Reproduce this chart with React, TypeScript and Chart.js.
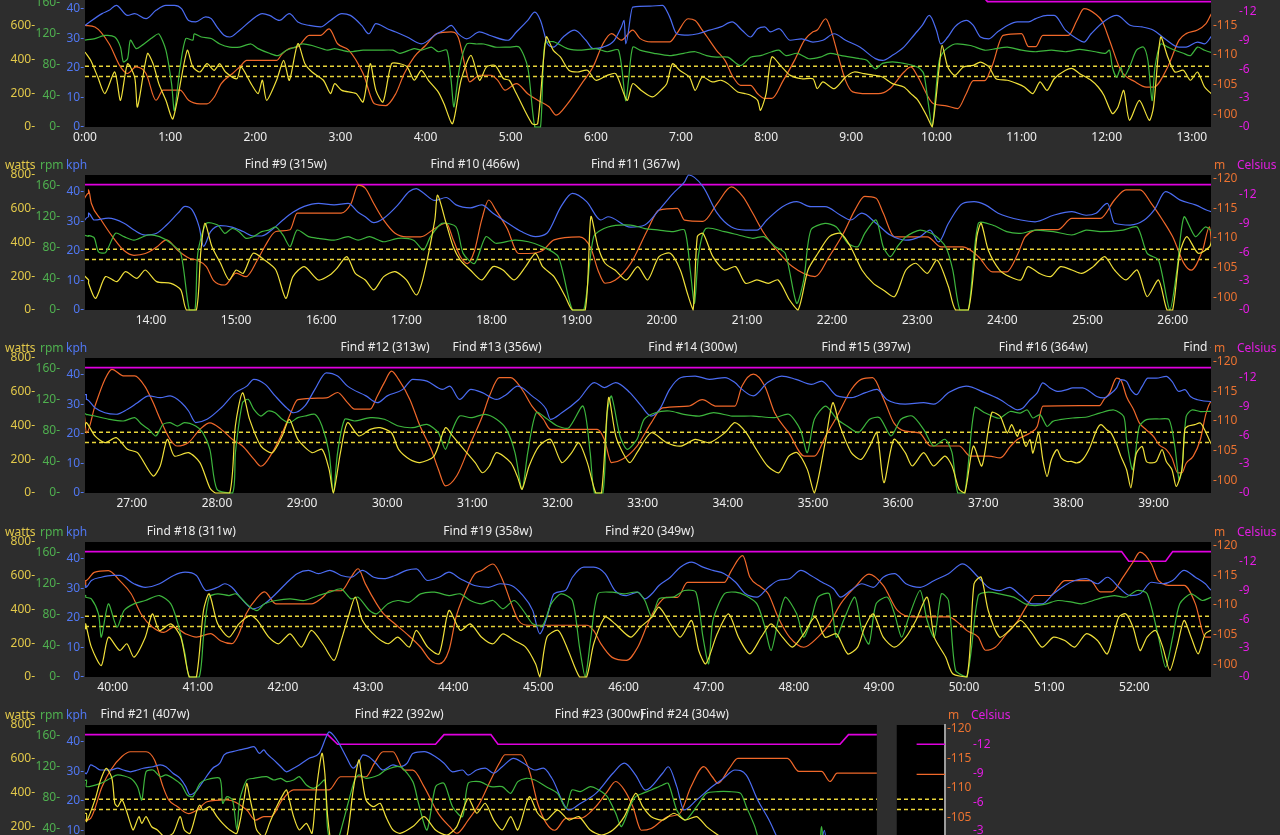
import React, { useEffect, useRef } from "react";
import { Chart, registerables } from "chart.js";

Chart.register(...registerables);

type Pt = [number, number | null];

// ---------- time windows (seconds) ----------
const PANEL_STARTS = [0, 793.5, 1587, 2380.5, 3174];
const PANEL_ENDS = [793.5, 1587, 2380.5, 3174, 3780];
const GAP: [number, number] = [3732, 3746];

// ---------- axis ticks ----------
const WATTS_TICKS = [0, 200, 400, 600, 800];
const RPM_TICKS = [0, 40, 80, 120, 160];
const KPH_TICKS = [0, 10, 20, 30, 40];
const ALT_TICKS = [100, 105, 110, 115, 120];
const TEMP_TICKS = [0, 3, 6, 9, 12];
const THRESHOLDS = [300, 360];

// ---------- interval labels [seconds, text] ----------
const FINDS: [number, string][] = [
  [906, "Find #9 (315w)"], [1037, "Find #10 (466w)"], [1150, "Find #11 (367w)"],
  [1767, "Find #12 (313w)"], [1846, "Find #13 (356w)"], [1984, "Find #14 (300w)"],
  [2106, "Find #15 (397w)"], [2231, "Find #16 (364w)"], [2361, "Find #17 (350w)"],
  [2424, "Find #18 (311w)"], [2633, "Find #19 (358w)"], [2747, "Find #20 (349w)"],
  [3185, "Find #21 (407w)"], [3364, "Find #22 (392w)"], [3505, "Find #23 (300w)"],
  [3565, "Find #24 (304w)"],
];

// ---------- series: [seconds, value] ----------
const WATTS_1: Pt[] = [[0,444],[4,395],[9,296],[14,198],[21,326],[25,158],[30,375],[35,296],[37,119],[44,435],[48,375],[52,257],[57,158],[62,49],[72,454],[76,356],[81,326],[86,375],[91,336],[95,375],[99,326],[107,286],[110,356],[117,257],[122,198],[125,277],[128,158],[135,277],[140,395],[144,277],[150,494],[155,375],[160,326],[168,277],[173,198],[176,257],[181,217],[191,198],[196,148],[201,375],[205,217],[210,148],[216,375],[222,375],[227,356],[232,277],[237,336],[242,277],[249,207],[253,138],[259,20],[265,277],[272,425],[278,277],[283,356],[289,365],[295,286],[299,277],[304,198],[315,20],[319,20],[325,533],[330,454],[335,415],[341,336],[347,326],[354,336],[360,277],[368,306],[374,316],[382,158],[386,257],[392,217],[400,178],[407,227],[410,257],[414,375],[419,336],[426,296],[430,217],[435,296],[442,267],[448,277],[453,257],[460,207],[465,198],[469,188],[474,158],[476,99],[480,198],[484,415],[491,356],[497,306],[505,286],[513,286],[516,227],[520,267],[528,227],[536,296],[542,326],[549,316],[557,306],[562,296],[569,257],[577,237],[582,198],[587,158],[593,69],[597,0],[602,356],[604,484],[608,356],[613,306],[619,356],[626,365],[631,385],[637,356],[642,286],[650,277],[657,257],[662,237],[668,198],[673,267],[678,217],[683,286],[691,336],[696,346],[701,316],[709,277],[714,237],[718,188],[724,79],[728,119],[732,217],[736,40],[743,158],[750,40],[753,119],[758,533],[763,415],[768,326],[774,336],[779,277],[784,326],[789,237],[796,178]];
const RPM_1: Pt[] = [[0,112],[7,114],[14,118],[21,116],[25,103],[27,84],[30,88],[32,112],[36,101],[40,105],[48,116],[52,120],[57,99],[61,56],[63,21],[67,77],[71,114],[76,112],[77,120],[82,116],[89,114],[95,107],[102,103],[109,103],[117,107],[122,101],[130,95],[136,92],[142,99],[148,103],[153,107],[160,105],[171,99],[176,101],[186,97],[196,99],[207,99],[217,99],[222,95],[232,101],[237,99],[244,103],[249,97],[255,99],[258,60],[260,26],[264,77],[269,107],[276,107],[281,107],[289,103],[299,103],[306,103],[312,77],[317,0],[321,0],[324,107],[330,110],[340,101],[350,99],[360,101],[368,97],[376,99],[381,34],[383,60],[386,103],[391,99],[401,95],[412,92],[422,95],[430,97],[438,92],[445,90],[453,90],[462,79],[469,90],[476,92],[484,97],[489,99],[494,92],[502,95],[510,88],[518,90],[525,95],[533,92],[546,88],[551,86],[557,75],[562,82],[569,84],[577,82],[587,77],[591,69],[594,34],[597,0],[599,34],[602,86],[606,99],[613,107],[624,105],[634,99],[642,101],[650,103],[660,99],[670,97],[681,99],[691,97],[701,100],[712,97],[719,95],[722,99],[724,77],[727,64],[730,77],[732,64],[736,77],[741,99],[746,103],[749,86],[752,34],[754,77],[758,107],[763,103],[768,99],[774,95],[779,92],[784,103],[789,99],[796,95]];
const KPH_1: Pt[] = [[0,34.3],[12,38.3],[17,39.4],[22,41.1],[30,37.7],[35,38.3],[43,36.6],[50,39.4],[57,41.1],[63,41.1],[68,40],[73,36],[78,35.5],[85,37.2],[89,36.6],[93,33.8],[98,31],[102,30.4],[109,32.7],[117,36],[125,38.3],[130,37.7],[137,36],[144,38.3],[150,35.5],[158,34.3],[166,33.8],[173,36],[181,38.3],[187,37.7],[195,34.3],[200,31.5],[205,34.9],[213,33.2],[219,32.1],[227,30.4],[237,28.1],[248,31.5],[253,32.7],[258,34.3],[263,31.5],[269,29.8],[278,32.1],[285,31],[298,29.3],[304,32.1],[312,36],[317,38.8],[321,36],[326,28.1],[330,27],[337,30.4],[345,32.7],[353,29.3],[358,26.5],[365,27],[373,29.3],[378,33.8],[380,36],[381,28.1],[386,40.5],[398,40.8],[407,41.1],[412,37.2],[417,31.5],[425,31],[432,31.5],[440,32.7],[448,33.8],[456,35.5],[463,32.7],[469,30.4],[474,33.2],[479,33.8],[483,32.1],[489,33.2],[497,29.3],[505,29.8],[513,28.7],[520,29.3],[528,31.5],[536,29.3],[546,27],[557,23.1],[562,22.5],[569,24.2],[577,27],[585,31.5],[590,34.3],[595,37.7],[600,32.7],[603,28.1],[608,30.4],[613,33.8],[621,36],[626,34.3],[631,30.4],[637,29.8],[643,32.1],[650,34.3],[657,35.5],[665,35.5],[670,36.6],[678,37.7],[683,37.7],[691,32.7],[699,29.8],[704,28.7],[709,31.5],[719,36],[727,37.7],[737,34.3],[745,33.8],[753,32.7],[761,29.8],[771,27],[776,27],[784,28.7],[789,28.1],[796,31.5]];
const ALT_1: Pt[] = [[0,115],[7,114.7],[17,111.9],[25,108],[30,106.9],[36,108],[43,106.9],[50,102.4],[55,104.1],[67,104.1],[73,102.4],[81,101.8],[86,101.8],[91,102.9],[96,105.2],[104,106.9],[109,108],[114,109.1],[135,109.1],[139,110.2],[144,111.1],[150,111.4],[158,113.3],[166,113.3],[172,114.4],[178,111.9],[186,110.8],[196,106.9],[204,101.8],[212,101.5],[219,103.5],[225,106.9],[232,109.7],[240,111.6],[248,113.6],[258,113.9],[263,113],[268,108],[271,105.5],[278,106.6],[286,106.6],[291,105.7],[296,104.1],[304,105.2],[312,103.5],[319,102.4],[327,101.3],[332,99.9],[340,101.8],[350,105.2],[358,108],[365,111.9],[371,113.6],[378,112.5],[386,114.2],[391,112.8],[399,112.2],[412,112.2],[417,113.6],[425,116.1],[430,115.8],[435,114.2],[440,112.5],[445,110.8],[451,109.1],[456,106.6],[462,104.9],[469,104.9],[474,103.5],[479,102.7],[484,102.7],[492,105.7],[500,109.1],[507,112.5],[513,113.9],[516,114.2],[522,116.1],[525,114.7],[531,109.7],[536,105.7],[541,103.8],[551,103.5],[559,103.5],[567,104.3],[577,107.1],[582,108],[587,106.3],[598,101.8],[606,101.5],[615,101],[621,103.5],[626,105.7],[634,105.7],[639,108],[647,113.3],[660,113.6],[665,111.4],[670,111.4],[675,113.3],[693,113.3],[699,115.8],[704,117.8],[712,116.9],[717,115.6],[722,112.5],[730,107.4],[740,105.5],[748,104.6],[753,104.6],[763,108],[771,112.5],[776,113.6],[784,114.2],[790,115.3],[796,117.5]];
const TEMP_1: Pt[] = [[0,14],[630,14],[636,13],[796,13]];

const WATTS_2: Pt[] = [[796,158],[801,69],[808,198],[816,168],[822,227],[830,188],[836,237],[844,168],[854,158],[861,119],[865,0],[872,0],[875,336],[878,514],[883,375],[889,277],[895,178],[900,237],[905,217],[912,336],[920,296],[928,237],[935,69],[940,198],[948,257],[958,178],[966,207],[971,247],[978,316],[984,217],[991,178],[997,119],[1004,198],[1012,227],[1020,178],[1027,89],[1032,198],[1040,533],[1042,681],[1048,514],[1053,375],[1058,296],[1065,237],[1073,178],[1081,257],[1088,237],[1096,178],[1104,257],[1111,336],[1116,257],[1124,198],[1132,79],[1137,0],[1146,0],[1150,553],[1155,375],[1160,277],[1167,237],[1175,178],[1183,257],[1190,178],[1198,316],[1206,336],[1213,237],[1218,99],[1222,0],[1225,435],[1229,454],[1236,316],[1244,237],[1252,257],[1259,158],[1267,178],[1275,158],[1282,178],[1290,59],[1296,0],[1303,237],[1310,336],[1318,435],[1326,454],[1333,375],[1341,237],[1349,158],[1356,119],[1364,79],[1372,237],[1379,277],[1387,217],[1394,296],[1402,138],[1407,0],[1416,0],[1422,435],[1425,514],[1430,356],[1438,237],[1445,198],[1453,178],[1458,257],[1466,217],[1474,198],[1481,257],[1489,237],[1496,217],[1504,257],[1512,316],[1519,237],[1527,178],[1535,237],[1542,79],[1550,178],[1556,0],[1560,0],[1565,336],[1570,435],[1578,336],[1586,375]];
const RPM_2: Pt[] = [[796,96],[800,93],[803,75],[808,74],[815,99],[821,94.5],[828,90],[838,96.7],[846,94.5],[854,86],[861,73],[867,0],[871,0],[873,73],[879,111.7],[887,109.5],[892,98.8],[897,105],[902,101],[907,92.4],[912,94.5],[918,101],[923,103],[928,107],[933,96.7],[938,81.6],[943,103],[951,94.5],[958,92.4],[969,90],[979,94.5],[986,90],[994,94.5],[1004,88],[1014,92.4],[1025,90],[1032,77.3],[1037,94.5],[1045,111.7],[1055,107],[1060,73],[1068,60],[1076,94.5],[1083,86],[1096,90],[1106,88],[1116,81.6],[1127,68.7],[1137,0],[1145,0],[1152,94.5],[1162,107],[1178,109.5],[1188,105],[1198,103],[1208,101],[1216,103],[1220,51.6],[1223,8.6],[1226,73],[1231,105],[1244,101],[1254,96.7],[1264,92.4],[1272,94.5],[1280,81.6],[1287,73],[1295,8.6],[1300,38.7],[1305,103],[1315,111.7],[1323,107],[1331,86],[1338,81.6],[1343,98.8],[1351,116],[1356,81.6],[1361,68.7],[1366,81.6],[1372,94.5],[1382,103],[1392,96.7],[1400,81.6],[1405,51.6],[1410,0],[1416,0],[1423,111.7],[1433,109.5],[1443,101],[1453,98.8],[1463,103],[1476,101],[1489,96.7],[1499,103],[1509,101],[1525,103],[1535,107],[1542,73],[1550,64.4],[1558,0],[1563,51.6],[1568,120],[1576,94.5],[1583,107],[1588,101]];
const KPH_2: Pt[] = [[796,32.7],[800,30.4],[810,31],[821,29.3],[828,27],[836,25.3],[844,25.9],[851,28.7],[859,32.7],[864,35],[869,33.8],[874,28],[877,21.5],[882,26.5],[889,28.5],[897,28],[905,26.5],[912,25],[918,25],[925,27],[933,30.4],[940,33],[948,35],[958,36],[969,35.5],[979,36],[986,33],[991,31.5],[997,29.5],[1004,31],[1014,35.5],[1022,40],[1027,41],[1032,39.5],[1040,37],[1048,38],[1055,35.5],[1065,34.5],[1073,35.5],[1081,32.7],[1091,29.5],[1101,26.5],[1111,24.8],[1119,25.9],[1129,35],[1137,39.4],[1147,36.6],[1157,30.4],[1162,31.5],[1178,28],[1188,28.7],[1198,33.8],[1208,39.4],[1216,43.3],[1219,45.6],[1229,41.7],[1239,32.7],[1249,28],[1259,27],[1267,27],[1274,30.4],[1285,34.9],[1295,36.6],[1305,34.9],[1315,34.9],[1326,32],[1333,30.4],[1341,32.7],[1351,29.3],[1361,25.3],[1372,23.6],[1382,24.8],[1389,27],[1395,23],[1402,29.3],[1412,36],[1420,36.6],[1428,35.5],[1437,32.7],[1453,30.4],[1463,29.8],[1476,32],[1489,33.2],[1499,32],[1506,32.7],[1514,36],[1519,29.3],[1530,28.7],[1540,30.4],[1547,33.8],[1555,40],[1565,37.2],[1576,35.5],[1588,33.2]];
const ALT_2: Pt[] = [[796,118.1],[798,115.8],[805,113],[813,110.2],[821,107.9],[828,107.1],[836,107.4],[844,108.5],[851,109.7],[859,107.9],[867,106.6],[872,106.3],[879,105.2],[884,102.9],[892,102.1],[900,104.1],[907,103.5],[915,106.3],[920,108.5],[928,111.1],[938,111.4],[943,114.2],[974,114.2],[981,115.8],[986,118.9],[991,118.4],[997,115.8],[1004,113],[1012,110.8],[1020,110.2],[1030,110.2],[1040,111.6],[1048,112.5],[1053,109.7],[1058,106.9],[1063,105.7],[1068,107.9],[1073,113],[1078,116.4],[1083,114.7],[1091,111.6],[1099,107.4],[1106,107.4],[1116,107.9],[1124,109.7],[1142,110.2],[1150,108.3],[1155,104.6],[1160,102.4],[1167,102.9],[1178,105.7],[1190,111.4],[1198,114.7],[1211,115],[1216,113],[1229,112.8],[1239,115.8],[1249,118.6],[1257,117],[1264,114.2],[1272,110.8],[1282,107.7],[1292,105.2],[1308,103.5],[1318,106.9],[1328,110.8],[1336,114.7],[1343,117],[1351,116.7],[1356,114.2],[1364,110.2],[1387,110.2],[1397,108.5],[1412,108.5],[1423,106.9],[1433,104.3],[1443,104.3],[1451,107.4],[1456,110.2],[1468,111.4],[1479,111.4],[1489,113.3],[1509,113.3],[1519,116.4],[1527,118.1],[1537,118.1],[1545,115.8],[1553,113],[1560,110.2],[1568,105.7],[1573,104.6],[1581,107.9],[1586,111.9]];
const TEMP_2: Pt[] = [[796,13],[1588,13]];

const WATTS_3: Pt[] = [[1588,417],[1594,338],[1601,298],[1609,328],[1617,259],[1624,239],[1635,101],[1640,160],[1645,318],[1650,219],[1660,239],[1668,180],[1675,30],[1679,0],[1689,0],[1693,400],[1698,594],[1703,436],[1711,278],[1719,239],[1726,338],[1731,436],[1737,318],[1747,239],[1754,259],[1759,140],[1762,0],[1767,239],[1772,417],[1780,338],[1788,377],[1795,387],[1803,357],[1808,259],[1816,199],[1823,180],[1833,219],[1841,387],[1846,338],[1854,259],[1862,180],[1867,120],[1872,160],[1877,239],[1887,180],[1892,91],[1895,22],[1900,160],[1907,278],[1915,318],[1923,180],[1930,239],[1935,298],[1941,180],[1947,0],[1951,0],[1956,565],[1961,338],[1966,239],[1971,180],[1976,239],[1986,357],[1997,298],[2007,278],[2017,318],[2027,298],[2038,357],[2045,417],[2053,357],[2060,259],[2068,160],[2076,120],[2083,219],[2089,239],[2096,140],[2101,0],[2109,318],[2114,535],[2119,397],[2127,239],[2134,199],[2140,278],[2145,357],[2150,61],[2157,318],[2165,239],[2170,160],[2178,239],[2185,160],[2193,219],[2198,160],[2203,22],[2207,0],[2213,278],[2219,160],[2226,476],[2232,454],[2234,415],[2237,356],[2240,405],[2244,336],[2246,375],[2250,276],[2253,316],[2255,237],[2259,356],[2262,197],[2265,98],[2268,197],[2272,257],[2275,207],[2279,187],[2282,187],[2286,178],[2290,197],[2295,267],[2300,375],[2303,405],[2307,375],[2310,356],[2314,286],[2317,217],[2321,138],[2324,30],[2326,138],[2328,237],[2332,276],[2335,187],[2339,178],[2342,187],[2346,257],[2349,187],[2353,138],[2356,39],[2360,138],[2362,375],[2364,395],[2369,405],[2373,415],[2376,375],[2381,286]];
const RPM_3: Pt[] = [[1588,101.4],[1594,99.2],[1604,95],[1614,92.8],[1622,97.1],[1627,88.5],[1632,82],[1637,73.5],[1642,88.5],[1647,90.6],[1652,86.3],[1657,90.6],[1665,86.3],[1670,77.8],[1675,56.3],[1680,4.7],[1691,0],[1693,52],[1698,116.4],[1702,120.7],[1706,107.8],[1711,99.2],[1716,105.7],[1721,103.5],[1726,95],[1731,90.6],[1737,97.1],[1742,99.2],[1749,101.4],[1754,86.3],[1759,52],[1762,0],[1765,52],[1770,95],[1777,92.8],[1788,97.1],[1798,95],[1808,86.3],[1818,84.2],[1828,88.5],[1836,77.8],[1841,56.3],[1846,82],[1851,99.2],[1859,97.1],[1869,101.4],[1877,95],[1884,82],[1890,52],[1895,4.7],[1899,52],[1905,103.5],[1913,95],[1920,86.3],[1928,84.2],[1938,112.1],[1943,52],[1946,0],[1952,0],[1955,103.5],[1958,125],[1964,73.5],[1969,56.3],[1976,69.2],[1981,95],[1989,103.5],[1999,105.7],[2009,101.4],[2020,99.2],[2030,103.5],[2043,99.2],[2058,99.2],[2073,97.1],[2083,101.4],[2091,82],[2096,52],[2101,95],[2109,112.1],[2117,95],[2124,86.3],[2132,77.8],[2140,95],[2147,97.1],[2155,73.5],[2162,95],[2170,99.2],[2178,82],[2185,60.6],[2193,69.2],[2198,52],[2202,0],[2207,0],[2214,110],[2221,103.5],[2229,97.1],[2232,96.7],[2239,105],[2246,103],[2251,107],[2255,96.7],[2260,101],[2265,85.8],[2269,92.3],[2274,94.5],[2283,96.7],[2293,98],[2302,103],[2312,107],[2319,98.7],[2321,68.7],[2325,30],[2327,47],[2330,85.8],[2335,94.5],[2344,95.4],[2351,94.5],[2355,60],[2358,17],[2360,30],[2363,98.7],[2367,107],[2373,105],[2381,105]];
const KPH_3: Pt[] = [[1588,31.6],[1594,28.8],[1601,27.1],[1609,26.6],[1617,28.3],[1624,30.5],[1632,32.8],[1640,32.2],[1647,32.8],[1655,30.5],[1660,27.7],[1665,23.8],[1673,24.9],[1683,28.8],[1693,33.9],[1701,36.1],[1706,38.4],[1714,36.7],[1721,32.8],[1729,28.8],[1734,27.1],[1742,29.4],[1749,35],[1757,40.6],[1765,39.5],[1772,36.1],[1785,32.8],[1793,30.5],[1800,32.8],[1811,35],[1818,38.4],[1828,37.8],[1839,35],[1844,36.1],[1851,31.6],[1859,35],[1867,33.9],[1877,31.6],[1884,33.3],[1892,36.1],[1902,32.8],[1912,28.3],[1915,24.9],[1923,27.1],[1935,31.6],[1946,37.3],[1953,35.6],[1961,37.3],[1971,33.9],[1979,29.4],[1986,26],[1992,28.3],[1999,35],[2007,39],[2017,39.5],[2027,38.4],[2038,39],[2045,37.3],[2050,35],[2058,32.8],[2068,37.3],[2078,39.5],[2088,38.4],[2099,36.7],[2106,37.8],[2117,32.8],[2127,32.2],[2137,33.9],[2145,35],[2152,31.6],[2165,30],[2178,30.5],[2185,30],[2196,34],[2208,36.1],[2221,33.9],[2232,31.5],[2239,29.3],[2244,28.1],[2248,28.7],[2253,31.5],[2258,33.8],[2262,37.2],[2267,35.5],[2273,34.3],[2279,34.9],[2283,35.5],[2290,35.5],[2295,34.3],[2300,32.6],[2305,32.1],[2309,33.2],[2314,35.5],[2317,38.3],[2321,37.7],[2324,34.9],[2328,33.2],[2332,36],[2336,38.8],[2342,38.8],[2349,39.4],[2353,37.7],[2358,34.3],[2362,34.9],[2366,32.6],[2371,31.5],[2381,30.9]];
const ALT_3: Pt[] = [[1588,108],[1594,112.5],[1601,117],[1606,118.7],[1614,117.6],[1622,117.6],[1629,115.9],[1635,113.1],[1640,110.3],[1647,106.9],[1652,105.8],[1660,106.4],[1668,108.6],[1675,109.7],[1683,108.6],[1691,106.9],[1698,105.8],[1706,103.6],[1711,102.4],[1719,104.7],[1726,108],[1731,110.8],[1737,113.6],[1757,113.9],[1765,114.8],[1772,113.1],[1777,112],[1788,112],[1793,114.2],[1798,116.5],[1803,118.4],[1808,117],[1816,113.6],[1823,109.2],[1831,105.2],[1836,101.9],[1841,99.1],[1849,100.8],[1859,106.4],[1867,110.8],[1872,114.2],[1879,117.3],[1887,117.3],[1895,115.3],[1902,112.5],[1910,110.3],[1915,108.6],[1948,108.6],[1953,106.9],[1958,103],[1966,103.6],[1976,105.8],[1986,109.7],[1994,112.2],[2012,112.5],[2022,113.6],[2032,112.5],[2045,112.5],[2050,115.9],[2058,117.9],[2066,115.9],[2073,111.4],[2083,108],[2094,104.1],[2101,104.1],[2109,107.5],[2117,110.8],[2127,115.3],[2134,117],[2142,117.3],[2150,113.6],[2157,109.7],[2165,108.3],[2175,108],[2183,105.8],[2203,105.8],[2211,104.1],[2224,104.1],[2232,103.8],[2239,105.7],[2244,106.9],[2248,107.4],[2253,108],[2258,109.1],[2262,112.5],[2302,112.6],[2305,113.6],[2309,114.7],[2314,117.2],[2317,116.9],[2321,114.1],[2326,111.9],[2330,109.7],[2335,108.5],[2340,107.4],[2344,106],[2349,105.2],[2353,103.8],[2357,101.3],[2360,101.3],[2363,102.9],[2368,104.1],[2373,106.9],[2377,111.3],[2381,113.3]];
const TEMP_3: Pt[] = [[1588,13],[2381,13]];

const WATTS_4: Pt[] = [[2381,315],[2385,177],[2392,68],[2397,236],[2405,157],[2410,197],[2415,118],[2423,236],[2428,374],[2433,276],[2441,315],[2448,236],[2454,0],[2459,0],[2464,394],[2468,493],[2474,315],[2482,236],[2489,315],[2497,364],[2502,335],[2510,236],[2517,197],[2525,256],[2533,177],[2540,276],[2548,197],[2556,98],[2561,216],[2566,355],[2571,473],[2576,335],[2586,236],[2594,197],[2601,236],[2609,177],[2614,276],[2622,177],[2630,137],[2637,394],[2645,276],[2652,315],[2660,236],[2668,197],[2675,256],[2683,216],[2691,177],[2698,78],[2701,0],[2706,236],[2714,276],[2721,157],[2729,0],[2734,0],[2739,197],[2747,355],[2754,315],[2765,236],[2772,296],[2780,355],[2785,414],[2793,315],[2800,236],[2808,335],[2813,157],[2818,78],[2826,256],[2834,374],[2841,236],[2849,137],[2857,236],[2864,315],[2872,236],[2879,177],[2887,256],[2895,355],[2902,236],[2910,256],[2918,137],[2925,177],[2930,296],[2936,374],[2943,236],[2951,177],[2959,236],[2966,335],[2974,473],[2979,236],[2987,118],[2992,19],[3002,0],[3007,552],[3012,592],[3017,394],[3025,236],[3032,276],[3040,335],[3048,256],[3055,177],[3063,236],[3071,216],[3078,177],[3086,256],[3094,216],[3101,137],[3109,355],[3114,374],[3119,296],[3124,157],[3129,236],[3135,276],[3140,177],[3145,39],[3150,177],[3155,335],[3160,236],[3165,137],[3170,256],[3175,276]];
const RPM_4: Pt[] = [[2381,102.9],[2385,100.7],[2390,81.4],[2392,51.3],[2397,94.3],[2403,64.2],[2408,85.7],[2415,94.3],[2423,98.6],[2433,105],[2441,94.3],[2446,68.5],[2451,29.9],[2454,0],[2461,0],[2464,51.3],[2468,102.9],[2474,107.2],[2482,105],[2487,107.2],[2492,98.6],[2497,90],[2502,85.7],[2507,94.3],[2515,98.6],[2525,100.7],[2535,98.6],[2545,105],[2553,109.3],[2561,113.6],[2568,100.7],[2573,102.9],[2581,85.7],[2586,81.4],[2594,94.3],[2601,98.6],[2609,96.4],[2617,107.2],[2627,109.3],[2637,105],[2645,107.2],[2652,98.6],[2660,94.3],[2668,98.6],[2675,87.8],[2683,98.6],[2691,81.4],[2696,68.5],[2703,66.4],[2709,94.3],[2716,107.2],[2724,98.6],[2729,38.5],[2733,0],[2737,51.3],[2742,107.2],[2752,109.3],[2760,107.2],[2770,109.3],[2775,98.6],[2780,77.1],[2785,100.7],[2795,102.9],[2803,111.5],[2811,109.3],[2816,51.3],[2820,17],[2823,72.8],[2831,107.2],[2839,109.3],[2846,105],[2854,94.3],[2859,68.5],[2864,34.2],[2869,72.8],[2874,102.9],[2882,81.4],[2887,51.3],[2892,72.8],[2897,102.9],[2905,107.2],[2910,51.3],[2915,72.8],[2923,102.9],[2928,60],[2933,42.7],[2938,94.3],[2946,102.9],[2951,81.4],[2956,51.3],[2961,77.1],[2969,111.5],[2974,72.8],[2979,51.3],[2984,107.2],[2989,98.6],[2994,8.4],[3002,0],[3010,105],[3017,109.3],[3025,107.2],[3035,102.9],[3043,94.3],[3050,92.1],[3058,94.3],[3066,98.6],[3076,96.4],[3083,94.3],[3091,98.6],[3099,102.9],[3106,105],[3114,102.9],[3122,111.5],[3129,107.2],[3137,51.3],[3142,12.7],[3147,51.3],[3152,94.3],[3160,107.2],[3168,98.6],[3175,102.9]];
const KPH_4: Pt[] = [[2381,30.3],[2385,32.6],[2392,33.7],[2400,34.3],[2405,34.3],[2415,31.5],[2423,30.3],[2433,31.5],[2443,34.3],[2451,35.4],[2459,34.3],[2466,29.2],[2474,30.3],[2479,31.5],[2484,30.3],[2489,27.5],[2494,24.7],[2499,23],[2507,24.7],[2515,28.1],[2522,31.5],[2530,34.9],[2538,36],[2545,34.9],[2553,36],[2561,34.3],[2568,33.7],[2576,36],[2584,33.7],[2591,33.2],[2599,34.3],[2607,36],[2614,36.5],[2622,32.6],[2630,33.7],[2637,35.4],[2645,33.2],[2655,30.9],[2665,30.3],[2673,31.5],[2681,30.9],[2688,28.1],[2696,22.5],[2701,14.6],[2706,20.2],[2711,28.1],[2719,29.2],[2724,33.7],[2732,37.1],[2739,37.1],[2747,34.9],[2754,29.2],[2762,27.5],[2770,28.7],[2775,26.4],[2780,28.1],[2785,30.9],[2793,33.7],[2800,37.1],[2808,38.8],[2816,37.1],[2823,36],[2831,34.9],[2839,32],[2846,28.1],[2854,27],[2862,30.3],[2869,32.6],[2877,33.2],[2885,36],[2892,34.3],[2900,32],[2908,29.8],[2913,27],[2920,29.2],[2928,31.5],[2936,30.3],[2943,33.7],[2951,34.9],[2959,31.5],[2969,30.3],[2979,32.6],[2989,34.9],[2999,38.2],[3010,33.7],[3017,30.3],[3025,29.2],[3032,30.3],[3040,27.5],[3048,24.7],[3055,24.7],[3063,28.1],[3071,30.9],[3078,32.6],[3086,33.2],[3094,31.5],[3101,33.7],[3109,30.3],[3117,27.5],[3124,28.1],[3132,32],[3140,31.5],[3147,32.6],[3155,36],[3163,33.7],[3170,31.5],[3175,29.2]];
const ALT_4: Pt[] = [[2381,114.1],[2387,115.5],[2397,115.8],[2405,114.1],[2413,111.9],[2420,108.5],[2428,106.3],[2436,105.4],[2443,106.3],[2451,105.2],[2459,104.6],[2469,105.2],[2476,104],[2484,103.5],[2489,105.2],[2494,108.5],[2502,111.3],[2507,112.2],[2515,110.2],[2540,110.2],[2548,111.3],[2553,112.4],[2561,112.4],[2568,114.7],[2573,116.1],[2578,113.6],[2586,110.2],[2591,108.5],[2599,106.8],[2607,105.2],[2617,102.9],[2624,100.7],[2630,100.1],[2637,102.4],[2642,108],[2647,111.3],[2655,115.2],[2660,115.8],[2668,116.9],[2675,114.1],[2681,110.2],[2686,107.4],[2693,106.6],[2734,106.6],[2739,105.7],[2744,103.5],[2752,101.2],[2762,100.7],[2770,102.9],[2777,106.8],[2783,109.6],[2790,111.3],[2798,111.3],[2805,113.8],[2831,113.8],[2836,115.8],[2844,118.3],[2849,114.7],[2857,113],[2862,111.9],[2869,107.9],[2877,104.6],[2887,102.9],[2897,104.6],[2905,106.8],[2913,110.2],[2923,113],[2933,115.2],[2943,113.3],[2953,109.1],[2964,108],[2989,108],[2997,106.8],[3002,105.7],[3010,104.6],[3015,102.4],[3022,102.9],[3030,105.2],[3038,107.4],[3045,110.2],[3050,111.6],[3061,111.6],[3066,113],[3071,114.1],[3089,114.1],[3096,112.2],[3104,112.2],[3112,114.7],[3119,117.2],[3124,118.9],[3132,116.9],[3137,114.1],[3147,113.3],[3155,113.3],[3163,110.2],[3170,104.6],[3175,104.6]];
const TEMP_4: Pt[] = [[2381,13],[3111,13],[3116,12],[3142,12],[3147,13],[3175,13]];

const WATTS_5: Pt[] = [[3175,227],[3181,356],[3185,474],[3189,543],[3193,484],[3195,336],[3197,316],[3200,356],[3203,296],[3206,217],[3208,178],[3212,257],[3214,217],[3217,257],[3221,197],[3225,178],[3230,138],[3236,158],[3241,257],[3244,178],[3248,158],[3253,296],[3255,326],[3257,296],[3262,316],[3267,257],[3271,217],[3276,178],[3281,158],[3286,356],[3288,454],[3290,375],[3293,257],[3295,178],[3300,138],[3304,217],[3309,316],[3314,395],[3316,415],[3318,356],[3321,257],[3325,178],[3330,217],[3334,158],[3337,415],[3341,632],[3343,514],[3345,257],[3348,79],[3351,59],[3358,119],[3363,415],[3367,593],[3369,494],[3372,356],[3377,316],[3382,336],[3386,257],[3391,178],[3396,158],[3405,198],[3413,257],[3421,178],[3429,148],[3436,198],[3444,365],[3450,277],[3456,336],[3462,237],[3468,178],[3474,257],[3479,178],[3487,375],[3493,277],[3499,237],[3507,296],[3515,237],[3522,257],[3530,178],[3538,148],[3546,178],[3554,257],[3562,395],[3567,316],[3573,257],[3581,237],[3589,277],[3597,237],[3605,257],[3612,198],[3620,148],[3628,99],[3640,40],[3652,0],[3732,0]];
const RPM_5: Pt[] = [[3175,94.5],[3185,98.8],[3192,105.3],[3197,109.6],[3206,105.3],[3211,94.5],[3214,77.3],[3217,113.8],[3222,116],[3227,107.4],[3231,109.6],[3236,105.3],[3242,96.7],[3246,83.8],[3250,81.6],[3255,98.8],[3259,103.1],[3269,105.3],[3271,73],[3274,81.6],[3278,77.3],[3281,38.7],[3283,77.3],[3288,103.1],[3293,105.3],[3302,107.4],[3307,103.1],[3312,105.3],[3316,101],[3321,103.1],[3325,107.4],[3330,96.7],[3335,92.4],[3339,96.7],[3343,103.1],[3345,38.7],[3349,12.9],[3353,30],[3360,77.3],[3364,103.1],[3367,109.6],[3372,105.3],[3381,109.6],[3386,116],[3396,120.3],[3405,101],[3409,73],[3415,38.7],[3421,94.5],[3427,98.8],[3433,68.7],[3440,55.8],[3444,98.8],[3452,101],[3460,94.5],[3468,94.5],[3474,85.9],[3479,101],[3485,105.3],[3491,103.1],[3499,94.5],[3507,85.9],[3513,66.6],[3517,90.2],[3523,88.1],[3530,94.5],[3536,90.2],[3542,81.6],[3548,60.1],[3552,43],[3558,68.7],[3562,81.6],[3567,85.9],[3573,90.2],[3581,96.7],[3585,98.8],[3591,64.4],[3597,51.5],[3605,68.7],[3612,85.9],[3620,88.1],[3628,88.1],[3636,85.9],[3640,68.7],[3646,43],[3650,17],[3654,0],[3689,0],[3693,43],[3697,0],[3732,0]];
const KPH_5: Pt[] = [[3175,29.3],[3178,32.1],[3181,31.5],[3185,30.4],[3192,30.4],[3197,31],[3201,30.4],[3206,29.8],[3211,30.4],[3215,31],[3222,31.5],[3227,32.1],[3231,31.5],[3236,29.3],[3241,27.6],[3245,24.8],[3248,22],[3253,23.6],[3257,26.4],[3264,31],[3269,32.7],[3272,35.5],[3278,36.6],[3283,37.2],[3288,37.7],[3293,38.3],[3297,36],[3300,37.2],[3302,36],[3307,33.8],[3312,31.5],[3316,29.8],[3321,31],[3325,32.1],[3332,34.4],[3339,36],[3344,41.6],[3346,43.3],[3349,42.2],[3353,39.4],[3358,34.9],[3363,31],[3367,33.2],[3370,35.5],[3374,34.9],[3379,32.7],[3384,30.4],[3391,32.1],[3396,31.5],[3401,32.7],[3405,36],[3413,36.6],[3421,34.9],[3427,32.7],[3433,29.8],[3440,30.4],[3444,28.7],[3450,30.4],[3456,31],[3462,29.3],[3468,31.5],[3476,34.3],[3483,32.7],[3491,30.4],[3497,31],[3503,27.6],[3515,16.9],[3523,19.1],[3534,22.5],[3546,29.3],[3554,32.7],[3562,28.7],[3569,23.6],[3581,29.3],[3585,31.5],[3591,24.8],[3596,16.9],[3605,20.3],[3616,24.8],[3624,27.6],[3632,30.4],[3640,28.7],[3648,20.3],[3656,13.5],[3661,8.4],[3667,2.3],[3673,0],[3691,0],[3695,10],[3698,0],[3732,0]];
const ALT_5: Pt[] = [[3175,104.6],[3178,104.9],[3186,110.2],[3192,113],[3200,115.3],[3206,116.1],[3217,116.1],[3223,114.7],[3229,110.2],[3233,108],[3239,106.9],[3247,105.7],[3253,106.3],[3260,107.7],[3274,108],[3288,106.3],[3294,104.6],[3300,105.2],[3305,105.2],[3313,108],[3321,109.7],[3346,109.7],[3354,111.9],[3372,111.9],[3378,114.2],[3384,116.1],[3391,116.1],[3399,113],[3405,113],[3413,110.2],[3423,105.7],[3431,103.5],[3436,102.4],[3444,104.6],[3452,107.4],[3460,111.4],[3466,114.2],[3470,115.6],[3481,115.6],[3487,113],[3493,107.4],[3499,104.1],[3505,102.9],[3513,104.9],[3523,104.9],[3534,106.9],[3542,109.4],[3548,111.1],[3554,109.7],[3560,106.9],[3566,102.9],[3573,103.2],[3585,105.2],[3593,105.7],[3601,110.2],[3610,113.6],[3616,111.9],[3620,110.8],[3628,113.3],[3634,115],[3669,115],[3677,112.8],[3693,112.8],[3699,111.1],[3704,112.5],[3732,112.5],[3746,null],[3760,112.3],[3780,112.3]];
const TEMP_5: Pt[] = [[3175,13],[3345,13],[3352,12],[3421,12],[3427,13],[3460,13],[3465,12],[3706,12],[3712,13],[3732,13],[3746,null],[3760,12],[3780,12]];

const WATTS = [...WATTS_1, ...WATTS_2, ...WATTS_3, ...WATTS_4, ...WATTS_5];
const RPM = [...RPM_1, ...RPM_2, ...RPM_3, ...RPM_4, ...RPM_5];
const KPH = [...KPH_1, ...KPH_2, ...KPH_3, ...KPH_4, ...KPH_5];
const ALT = [...ALT_1, ...ALT_2, ...ALT_3, ...ALT_4, ...ALT_5];
const TEMP = [...TEMP_1, ...TEMP_2, ...TEMP_3, ...TEMP_4, ...TEMP_5];

// ---------- layout & style ----------
const FONT = "'Noto Sans', 'DejaVu Sans', sans-serif";
const BG = "#2d2d2d";
const PLOT_TOPS = [-8, 175, 358, 542, 725];
const PLOT_RIGHTS = [1211, 1211, 1211, 1211, 945];
const PLOT_H = 135;
const PAD_TOP = 24;
const X_AXIS_H = 24;
const LEFT_W = [36, 25, 24];
const RIGHT_W = [26, 43];
const LINE = { watts: "#f0e03a", rpm: "#3db53d", kph: "#4b6cf2", alt: "#f0682a", temp: "#e000e0", cp: "#e8d43a" };
const LABEL = { watts: "#e3c94a", rpm: "#4fb04f", kph: "#5077f2", alt: "#ea7230", temp: "#e21de2", text: "#ececec" };

const toXY = (arr: Pt[]) => arr.map(([x, y]) => ({ x, y }));
const setTicks = (values: number[]) => (s: any) => { s.ticks = values.map((v) => ({ value: v })); };

const decorPlugin = {
  id: "decor",
  beforeDraw(chart: any) {
    const { ctx, chartArea: a } = chart;
    ctx.save();
    ctx.fillStyle = "#000";
    ctx.fillRect(a.left, a.top, a.right - a.left, a.bottom - a.top);
    ctx.restore();
  },
  afterDatasetsDraw(chart: any) {
    const { ctx, chartArea: a, scales } = chart;
    const x = scales.x;
    if (x.max > GAP[0] && x.min < GAP[1]) {
      const l = x.getPixelForValue(GAP[0]);
      const r = x.getPixelForValue(GAP[1]);
      ctx.save();
      ctx.fillStyle = BG;
      ctx.fillRect(l, a.top - 1, r - l, a.bottom - a.top + 2);
      ctx.restore();
    }
  },
  afterDraw(chart: any) {
    const { ctx, chartArea: a, scales } = chart;
    const x = scales.x;
    ctx.save();
    ctx.beginPath();
    ctx.rect(0, 0, a.right, a.top);
    ctx.clip();
    ctx.font = `12px ${FONT}`;
    ctx.fillStyle = LABEL.text;
    ctx.textBaseline = "middle";
    ctx.textAlign = "left";
    for (const [t, label] of FINDS) {
      if (t >= x.min && t < x.max) ctx.fillText(label, x.getPixelForValue(t), a.top - 10);
    }
    ctx.restore();
  },
};

function Panel({ index }: { index: number }) {
  const ref = useRef<HTMLCanvasElement | null>(null);
  const top = PLOT_TOPS[index];
  const right = PLOT_RIGHTS[index];
  const width = right + RIGHT_W[0] + RIGHT_W[1];
  const height = PAD_TOP + PLOT_H + X_AXIS_H;

  useEffect(() => {
    if (!ref.current) return;
    const min = PANEL_STARTS[index];
    const max = PANEL_ENDS[index];
    const line = (data: Pt[], axis: string, color: string, extra: any = {}) => ({
      data: toXY(data),
      yAxisID: axis,
      borderColor: color,
      borderWidth: 1.2,
      pointRadius: 0,
      fill: false,
      spanGaps: false,
      tension: 0,
      clip: { left: 0, right: 0, top: 2, bottom: 2 },
      ...extra,
    });
    const smooth = { cubicInterpolationMode: "monotone" };
    const soft = { tension: 0.25 };
    const cp = (v: number) =>
      line([[min, v], [max, v]], "watts", LINE.cp, { borderDash: [4, 3], borderWidth: 1.5 });
    const vAxis = (pos: string, w: number, lo: number, hi: number, ticks: number[], color: string, fmt: (v: number) => string, weight: number, border: any = { display: false }) => ({
      type: "linear",
      position: pos,
      min: lo,
      max: hi,
      weight,
      afterBuildTicks: setTicks(ticks),
      afterFit: (s: any) => { s.width = w; },
      grid: { display: false, drawTicks: false },
      border,
      ticks: { color, padding: pos === "left" ? 1 : 2, font: { size: 12, family: FONT }, callback: (v: any) => fmt(Number(v)) },
    });

    const chart = new Chart(ref.current, {
      type: "line",
      data: {
        datasets: [
          line(WATTS, "watts", LINE.watts, soft),
          line(RPM, "rpm", LINE.rpm, soft),
          line(KPH, "kph", LINE.kph, smooth),
          line(ALT, "alt", LINE.alt, smooth),
          line(TEMP, "temp", LINE.temp, { borderWidth: 1.6 }),
          ...THRESHOLDS.map(cp),
        ] as any,
      },
      options: {
        responsive: false,
        animation: false,
        events: [],
        layout: { padding: { top: PAD_TOP, left: 0, right: 0, bottom: 0 } },
        plugins: { legend: { display: false }, tooltip: { enabled: false } },
        scales: {
          x: {
            type: "linear",
            min,
            max,
            afterBuildTicks: (s: any) => {
              const t: { value: number }[] = [];
              for (let m = Math.ceil(min / 60); m * 60 <= max; m++) t.push({ value: m * 60 });
              s.ticks = t;
            },
            afterFit: (s: any) => { s.height = X_AXIS_H; },
            grid: { display: false, drawTicks: false },
            border: { display: false },
            ticks: {
              color: LABEL.text,
              padding: 3,
              autoSkip: false,
              maxRotation: 0,
              font: { size: 12, family: FONT },
              callback: (v: any) => `${Math.round(Number(v) / 60)}:00`,
            },
          },
          watts: vAxis("left", LEFT_W[0], 0, 800, WATTS_TICKS, LABEL.watts, (v) => `${v}-`, 3),
          rpm: vAxis("left", LEFT_W[1], 0, 174, RPM_TICKS, LABEL.rpm, (v) => `${v}-`, 2),
          kph: vAxis("left", LEFT_W[2], 0, 45.6, KPH_TICKS, LABEL.kph, (v) => `${v}-`, 1),
          alt: vAxis("right", RIGHT_W[0], 97.9, 120.6, ALT_TICKS, LABEL.alt, (v) => `-${v}`, 1,
            index === 4 ? { display: true, color: "#9c9c9c", width: 2 } : { display: false }),
          temp: vAxis("right", RIGHT_W[1], 0, 14, TEMP_TICKS, LABEL.temp, (v) => `-${v}`, 2),
        } as any,
      },
      plugins: [decorPlugin],
    });
    return () => chart.destroy();
  }, [index]);

  const head = (left: number, color: string, text: string) => (
    <span style={{ position: "absolute", left, top: top - 17, color, fontSize: 12, lineHeight: "14px", whiteSpace: "nowrap" }}>{text}</span>
  );

  return (
    <>
      <canvas
        ref={ref}
        width={width}
        height={height}
        style={{ position: "absolute", left: 0, top: top - PAD_TOP, width, height, display: "block" }}
      />
      {head(5, LABEL.watts, "watts")}
      {head(40, LABEL.rpm, "rpm")}
      {head(66, LABEL.kph, "kph")}
      {head(right + 3, LABEL.alt, "m")}
      {head(right + 26, LABEL.temp, "Celsius")}
    </>
  );
}

export default function App() {
  useEffect(() => {
    document.body.style.margin = "0";
    document.body.style.background = BG;
  }, []);
  return (
    <div
      style={{
        position: "fixed",
        left: 0,
        top: 0,
        width: 1280,
        height: 835,
        overflow: "hidden",
        background: BG,
        fontFamily: FONT,
      }}
    >
      {PLOT_TOPS.map((_, i) => (
        <Panel key={i} index={i} />
      ))}
    </div>
  );
}
